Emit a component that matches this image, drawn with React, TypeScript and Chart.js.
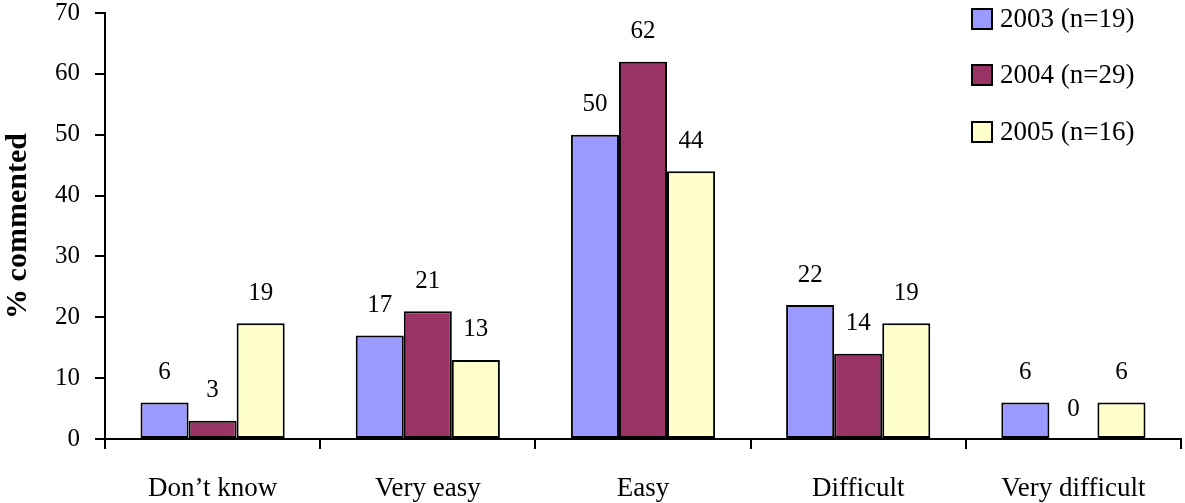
import React, { useEffect, useRef } from "react";
import { Chart, registerables } from "chart.js";

Chart.register(...registerables);

const categories = ["Don\u2019t know", "Very easy", "Easy", "Difficult", "Very difficult"];
const seriesLabels = ["2003 (n=19)", "2004 (n=29)", "2005 (n=16)"];
const values2003 = [6, 17, 50, 22, 6];
const values2004 = [3, 21, 62, 14, 0];
const values2005 = [19, 13, 44, 19, 6];
const seriesColors = ["#9999FF", "#993366", "#FFFFCC"];
const yTicksMax = 70;
const yTicksStep = 10;
const yTitle = "% commented";

const FONT = "'Liberation Serif', 'Times New Roman', serif";

const valueLabelPlugin = {
  id: "valueLabels",
  afterDatasetsDraw(chart: any) {
    const ctx = chart.ctx;
    ctx.save();
    ctx.fillStyle = "#000";
    ctx.font = `25px ${FONT}`;
    ctx.textAlign = "center";
    ctx.textBaseline = "middle";
    chart.data.datasets.forEach((ds: any, i: number) => {
      const meta = chart.getDatasetMeta(i);
      meta.data.forEach((bar: any, j: number) => {
        ctx.fillText(String(ds.data[j]), bar.x, bar.y - 30);
      });
    });
    ctx.restore();
  },
};

const legendPlugin = {
  id: "boxLegend",
  afterDraw(chart: any) {
    const ctx = chart.ctx;
    ctx.save();
    const boxX = 972;
    const rowCenters = [19, 75, 132];
    chart.data.datasets.forEach((ds: any, i: number) => {
      const cy = rowCenters[i];
      ctx.fillStyle = ds.backgroundColor;
      ctx.fillRect(boxX, cy - 10, 20, 20);
      ctx.strokeStyle = "#000";
      ctx.lineWidth = 2;
      ctx.strokeRect(boxX, cy - 10, 20, 20);
      ctx.fillStyle = "#000";
      ctx.font = `27px ${FONT}`;
      ctx.textAlign = "left";
      ctx.textBaseline = "middle";
      ctx.fillText(ds.label, 1000, cy + 1);
    });
    ctx.restore();
  },
};

export default function App() {
  const canvasRef = useRef<HTMLCanvasElement | null>(null);

  useEffect(() => {
    if (!canvasRef.current) return;
    const chart = new Chart(canvasRef.current, {
      type: "bar",
      data: {
        labels: categories,
        datasets: [values2003, values2004, values2005].map((vals, i) => ({
          label: seriesLabels[i],
          data: vals,
          backgroundColor: seriesColors[i],
          borderColor: "#000",
          borderWidth: 2,
          borderSkipped: false,
          categoryPercentage: 0.67,
          barPercentage: 1,
        })),
      },
      options: {
        responsive: false,
        animation: false,
        devicePixelRatio: 1,
        layout: { padding: { top: 13, right: 4, bottom: 0, left: 0 } },
        plugins: {
          legend: { display: false },
          tooltip: { enabled: false },
        },
        scales: {
          x: {
            offset: true,
            grid: {
              display: true,
              offset: true,
              drawOnChartArea: false,
              drawTicks: true,
              tickLength: 10,
              color: "#000",
              lineWidth: 2,
            },
            border: { display: true, color: "#000", width: 2 },
            ticks: {
              color: "#000",
              font: { family: FONT, size: 27, lineHeight: 1.2 },
              padding: 24,
              maxRotation: 0,
              autoSkip: false,
            },
            afterFit(scale: any) {
              scale.height = 64;
              scale.paddingLeft = 0;
              scale.paddingRight = 0;
            },
          },
          y: {
            min: 0,
            max: yTicksMax,
            grid: {
              display: true,
              drawOnChartArea: false,
              drawTicks: true,
              tickLength: 10,
              color: "#000",
              lineWidth: 2,
            },
            border: { display: true, color: "#000", width: 2 },
            ticks: {
              stepSize: yTicksStep,
              color: "#000",
              font: { family: FONT, size: 25, lineHeight: 1.0 },
              padding: 15,
            },
            title: {
              display: true,
              text: yTitle,
              color: "#000",
              font: { family: FONT, size: 30, weight: "bold", lineHeight: 1.2 },
              padding: { top: 0, bottom: 0 },
            },
            afterFit(scale: any) {
              scale.width = 105;
              scale.paddingTop = 0;
              scale.paddingBottom = 0;
            },
          },
        },
      },
      plugins: [valueLabelPlugin, legendPlugin],
    });
    return () => chart.destroy();
  }, []);

  return (
    <div style={{ position: "absolute", left: 0, top: 0, width: 1185, height: 503, background: "#fff" }}>
      <canvas ref={canvasRef} width={1185} height={503} style={{ display: "block" }} />
    </div>
  );
}
